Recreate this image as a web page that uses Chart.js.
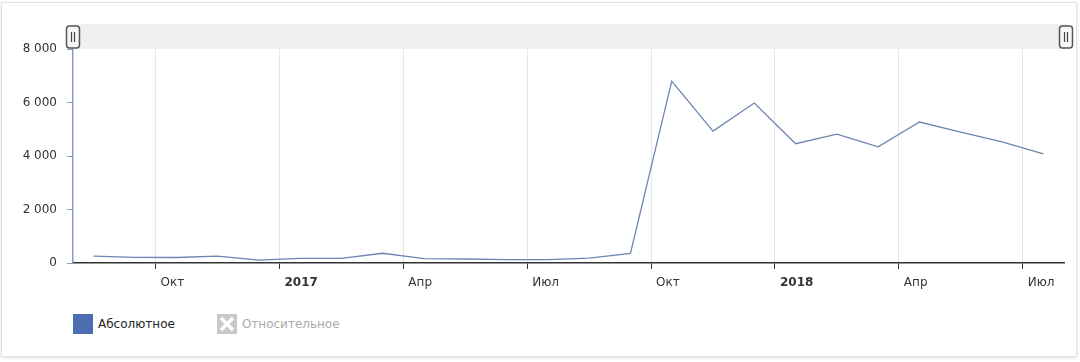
<!DOCTYPE html>
<html>
<head>
<meta charset="utf-8">
<script src="https://cdn.jsdelivr.net/npm/chart.js@4.4.1/dist/chart.umd.min.js"></script>
<style>
  body { margin: 0; background: #fff; font-family: "DejaVu Sans", sans-serif; }
  #card { position: absolute; left: 1px; top: 2px; width: 1074px; height: 353px;
          border: 1px solid #e2e2e2; box-shadow: 0 1px 3px rgba(0,0,0,0.12); }
  #wrap { position: absolute; left: 0; top: 0; width: 1080px; height: 300px; }
  #legend { position: absolute; left: 73px; top: 314px; display: flex; font-size: 12px; }
  .item { display: flex; align-items: center; height: 20px; margin-right: 42px; }
  .box { width: 20px; height: 20px; margin-right: 5px; }
</style>
</head>
<body>
<div id="card"></div>
<div id="wrap"><canvas id="chart"></canvas></div>
<div id="legend"></div>
<script>
// months counted from Jan 2016 (0 = Jan 1 2016); each value sits mid-month
var X_MIN = 7, X_MAX = 31;
var MONTH_POS = [7.5,8.5,9.5,10.5,11.5,12.5,13.5,14.5,15.5,16.5,17.5,18.5,
                 19.5,20.5,21.5,22.5,23.5,24.5,25.5,26.5,27.5,28.5,29.5,30.5];
var ABS_VALUES = [260,210,205,260,110,170,170,365,165,150,125,125,
                  180,360,6800,4930,5980,4460,4820,4340,5270,4890,4530,4080];
var TICK_POS = [9,12,15,18,21,24,27,30];
var TICK_LABELS = ["Окт","2017","Апр","Июл","Окт","2018","Апр","Июл"];
var YEAR_TICKS = ["2017","2018"];
var SERIES_LABELS = ["Абсолютное","Относительное"];
var SERIES_HIDDEN = [false, true];

var LINE_COLOR = 'rgb(108,133,177)';
var FONT = "'DejaVu Sans', sans-serif";

var scrollbarPlugin = {
    id: 'scrollbar',
    afterDraw(chart) {
        var ctx = chart.ctx, a = chart.chartArea;
        ctx.save();
        ctx.fillStyle = '#f0f0f0';
        ctx.fillRect(a.left, a.top - 25, a.right - a.left + 2, 25);
        [a.left, a.right + 2].forEach(x => {
            var w = 13, h = 22, y = a.top - 12;
            ctx.beginPath();
            ctx.roundRect(x - w / 2, y - h / 2, w, h, 3);
            ctx.fillStyle = '#f7f7f7';
            ctx.fill();
            ctx.lineWidth = 1.5;
            ctx.strokeStyle = '#555';
            ctx.stroke();
            ctx.beginPath();
            ctx.moveTo(x - 1.5, y - 5); ctx.lineTo(x - 1.5, y + 5);
            ctx.moveTo(x + 1.5, y - 5); ctx.lineTo(x + 1.5, y + 5);
            ctx.lineWidth = 1.2;
            ctx.strokeStyle = '#444';
            ctx.stroke();
        });
        ctx.restore();
    }
};

var points = MONTH_POS.map((m, i) => ({x: m, y: ABS_VALUES[i]}));

new Chart(document.getElementById('chart'), {
    type: 'line',
    data: {
        datasets: [{
            label: SERIES_LABELS[0],
            data: points,
            borderColor: LINE_COLOR,
            borderWidth: 1.3,
            pointRadius: 0,
            tension: 0,
            fill: false
        }]
    },
    options: {
        responsive: true,
        maintainAspectRatio: false,
        animation: false,
        layout: { padding: { top: 49, right: 16, bottom: 7, left: 0 } },
        scales: {
            x: {
                type: 'linear',
                min: X_MIN,
                max: X_MAX,
                afterBuildTicks: s => { s.ticks = TICK_POS.map(v => ({value: v})); },
                afterFit: s => { s.height = 30; },
                grid: { color: '#e6e6e6', tickColor: '#333', tickLength: 6, lineWidth: 1 },
                border: { color: '#333', width: 1.5 },
                ticks: {
                    align: 'start',
                    labelOffset: 5,
                    padding: 7,
                    maxRotation: 0,
                    autoSkip: false,
                    color: '#333',
                    callback: (v) => TICK_LABELS[TICK_POS.indexOf(v)],
                    font: (c) => {
                        var lbl = c.tick ? TICK_LABELS[TICK_POS.indexOf(c.tick.value)] : '';
                        return { family: FONT, size: 12, weight: YEAR_TICKS.indexOf(lbl) > -1 ? 'bold' : 'normal' };
                    }
                }
            },
            y: {
                min: 0,
                max: 8000,
                afterFit: s => { s.width = 73; },
                grid: { drawOnChartArea: false, tickColor: '#8a9cbd', tickLength: 6 },
                border: { color: '#8a9cbd', width: 1.5 },
                ticks: {
                    stepSize: 2000,
                    padding: 10,
                    color: '#333',
                    font: { family: FONT, size: 12 },
                    callback: v => String(v).replace(/\B(?=(\d{3})+(?!\d))/g, ' ')
                }
            }
        },
        plugins: {
            legend: { display: false },
            tooltip: { enabled: false }
        }
    },
    plugins: [scrollbarPlugin]
});

// legend below the chart
var legend = document.getElementById('legend');
SERIES_LABELS.forEach((label, i) => {
    var item = document.createElement('div');
    item.className = 'item';
    var box = SERIES_HIDDEN[i]
        ? '<svg class="box" viewBox="0 0 20 20"><rect width="20" height="20" fill="#c8c8c8"/>' +
          '<path d="M4 4L16 16M16 4L4 16" stroke="#fff" stroke-width="3.5"/></svg>'
        : '<div class="box" style="background:rgb(76,110,174)"></div>';
    item.innerHTML = box + '<span style="color:' + (SERIES_HIDDEN[i] ? '#aaa' : '#222') + '">' + label + '</span>';
    legend.appendChild(item);
});
</script>
</body>
</html>
